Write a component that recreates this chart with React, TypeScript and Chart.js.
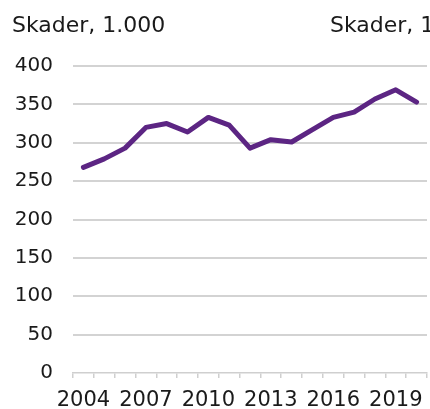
import React, { useEffect, useRef } from "react";
import { Chart, registerables } from "chart.js";

Chart.register(...registerables);

const years = ["2004","2005","2006","2007","2008","2009","2010","2011","2012","2013","2014","2015","2016","2017","2018","2019","2020"];
const skader = [268, 279, 293, 320, 325, 314, 333, 323, 293, 304, 301, 317, 333, 340, 357, 369, 353];
const yTicks = [0, 50, 100, 150, 200, 250, 300, 350, 400];
const axisTitle = "Skader, 1.000";

const FONT = "'DejaVu Sans', Verdana, sans-serif";

const titlePlugin = {
  id: "axisTitles",
  afterDraw(chart: any) {
    const ctx = chart.ctx;
    ctx.save();
    ctx.font = `22px ${FONT}`;
    ctx.fillStyle = "#1a1a1a";
    ctx.textBaseline = "alphabetic";
    ctx.textAlign = "left";
    ctx.fillText(axisTitle, 12, 32);
    ctx.fillText(axisTitle, 330, 32);
    ctx.restore();
  },
};

export default function App() {
  const ref = useRef<HTMLCanvasElement>(null);
  useEffect(() => {
    if (!ref.current) return;
    const chart = new Chart(ref.current, {
      type: "line",
      data: {
        labels: years,
        datasets: [
          {
            data: skader,
            borderColor: "#5c2583",
            borderWidth: 5,
            pointRadius: 0,
            tension: 0,
            fill: false,
            borderJoinStyle: "round",
            borderCapStyle: "round",
          },
        ],
      },
      options: {
        animation: false,
        responsive: true,
        maintainAspectRatio: false,
        layout: { padding: { top: 66, right: 3, left: 0, bottom: 0 } },
        plugins: { legend: { display: false }, tooltip: { enabled: false } },
        scales: {
          x: {
            offset: true,
            border: { display: true, color: "#cfcfcf", width: 1.5 },
            grid: {
              offset: true,
              drawOnChartArea: false,
              drawTicks: true,
              tickLength: 5,
              color: "#cfcfcf",
              lineWidth: 1.5,
            },
            ticks: {
              autoSkip: false,
              maxRotation: 0,
              minRotation: 0,
              padding: 10,
              color: "#1a1a1a",
              font: { family: FONT, size: 21 },
              callback: (_v: any, i: number) => (i % 3 === 0 ? years[i] : ""),
            },
            afterFit: (s: any) => {
              s.height = 36;
            },
          },
          y: {
            min: 0,
            max: 400,
            afterBuildTicks: (s: any) => {
              s.ticks = yTicks.map((v) => ({ value: v }));
            },
            border: { display: false },
            grid: {
              drawTicks: false,
              color: (c: any) => (c.tick && c.tick.value === 0 ? "rgba(0,0,0,0)" : "#d3d3d3"),
              lineWidth: 2,
            },
            ticks: {
              padding: 20,
              color: "#1a1a1a",
              font: { family: FONT, size: 20 },
            },
            afterFit: (s: any) => {
              s.width = 73;
            },
          },
        },
      },
      plugins: [titlePlugin],
    });
    return () => chart.destroy();
  }, []);
  return (
    <div style={{ position: "fixed", left: 0, top: 0, width: 430, height: 409, background: "#fff" }}>
      <canvas ref={ref} />
    </div>
  );
}
